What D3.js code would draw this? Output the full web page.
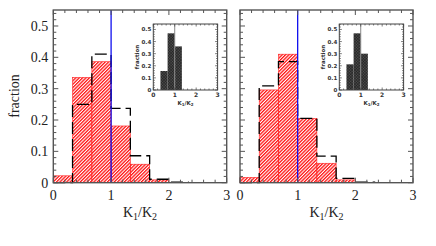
<!DOCTYPE html>
<html>
<head>
<meta charset="utf-8">
<script src="https://cdn.jsdelivr.net/npm/d3@7"></script>
<style>
body { margin: 0; background: #fff; }
svg { display: block; }
</style>
</head>
<body>
<svg id="chart"></svg>
<script>
// bin edges of K1/K2 histograms
var binEdges = [0, 0.333, 0.667, 1, 1.333, 1.667, 2, 2.333];
var leftRed   = [0.022, 0.336, 0.386, 0.181, 0.059, 0.009, 0];
var leftDash  = [0, 0.25, 0.41, 0.237, 0.086, 0.011, 0.002];
var rightRed  = [0.017, 0.296, 0.41, 0.205, 0.062, 0.009, 0];
var rightDash = [0, 0.309, 0.386, 0.205, 0.085, 0.014, 0.002];
var insetEdges = [0, 0.333, 0.667, 1, 1.333];
var leftInset  = [0, 0.157, 0.468, 0.36];
var rightInset = [0, 0.212, 0.468, 0.30];
var xTicks = [0, 1, 2, 3];
var yTicks = [0, 0.1, 0.2, 0.3, 0.4, 0.5];
var refLine = 1;

var width = 436, height = 246;
var svg = d3.select("#chart").attr("width", width).attr("height", height);

var defs = svg.append("defs");
var hatch = defs.append("pattern")
	.attr("id", "hatch")
	.attr("patternUnits", "userSpaceOnUse")
	.attr("width", 2.4).attr("height", 2.4)
	.attr("patternTransform", "rotate(45)");
hatch.append("rect").attr("width", 1.3).attr("height", 2.4).attr("fill", "#ff1010");

var cross = defs.append("pattern")
	.attr("id", "cross")
	.attr("patternUnits", "userSpaceOnUse")
	.attr("width", 2).attr("height", 2)
	.attr("patternTransform", "rotate(45)");
cross.append("rect").attr("width", 2).attr("height", 2).attr("fill", "#555");
cross.append("line").attr("x1", 0).attr("y1", 0).attr("x2", 0).attr("y2", 2)
	.attr("stroke", "#111").attr("stroke-width", 1);
cross.append("line").attr("x1", 0).attr("y1", 0).attr("x2", 2).attr("y2", 0)
	.attr("stroke", "#111").attr("stroke-width", 1);

function stepPoints(edges, vals){
	var pts = [[edges[0], 0]];
	for(let i = 0; i < vals.length; i++){
		pts.push([edges[i], vals[i]]);
		pts.push([edges[i+1], vals[i]]);
	}
	pts.push([edges[vals.length], 0]);
	return pts;
}

function ticksOn(g, x, y, x0, x1, y0, y1, xStep, yStep, major, minor){
	// x ticks bottom and top
	d3.range(0, 3.0001, xStep).forEach(function(v){
		var len = Math.abs(v - Math.round(v)) < 1e-6 ? major : minor;
		g.append("line").attr("x1", x(v)).attr("x2", x(v))
			.attr("y1", y1).attr("y2", y1 - len);
		g.append("line").attr("x1", x(v)).attr("x2", x(v))
			.attr("y1", y0).attr("y2", y0 + len);
	});
	d3.range(0, 0.5501, yStep).forEach(function(v){
		var r = v * 10;
		var len = Math.abs(r - Math.round(r)) < 1e-6 ? major : minor;
		g.append("line").attr("x1", x0).attr("x2", x0 + len)
			.attr("y1", y(v)).attr("y2", y(v));
		g.append("line").attr("x1", x1).attr("x2", x1 - len)
			.attr("y1", y(v)).attr("y2", y(v));
	});
}

function panel(left, right, red, dash, inset, insetLeft, showY){
	var x = d3.scaleLinear().domain([0, 3]).range([left, right]);
	var y = d3.scaleLinear().domain([0, 0.551]).range([182.7, 10]);
	var g = svg.append("g");

	// red hatched histogram
	g.selectAll("rect.red")
		.data(red)
		.enter()
		.append("rect")
		.attr("class", "red")
		.attr("x", function(d, i){ return x(binEdges[i]); })
		.attr("width", function(d, i){ return x(binEdges[i+1]) - x(binEdges[i]); })
		.attr("y", function(d){ return y(d); })
		.attr("height", function(d){ return y(0) - y(d); })
		.attr("fill", "url(#hatch)")
		.attr("stroke", "#ff2020")
		.attr("stroke-width", function(d){ return d > 0 ? 0.6 : 0; });

	// dashed histogram
	g.append("path")
		.attr("d", d3.line().x(function(d){ return x(d[0]); }).y(function(d){ return y(d[1]); })(stepPoints(binEdges, dash)))
		.attr("fill", "none")
		.attr("stroke", "#000")
		.attr("stroke-width", 1.3)
		.attr("stroke-dasharray", "12,5");

	// reference line
	g.append("line")
		.attr("x1", x(refLine)).attr("x2", x(refLine))
		.attr("y1", y.range()[1]).attr("y2", y.range()[0])
		.attr("stroke", "#1010ee").attr("stroke-width", 1.3);

	// frame + ticks
	var tg = g.append("g").attr("stroke", "#555").attr("stroke-width", 1);
	ticksOn(tg, x, y, left, right, 10, 182.7, 0.2, 0.02, 5, 3);
	g.append("rect")
		.attr("x", left).attr("y", 10)
		.attr("width", right - left).attr("height", 182.7 - 10)
		.attr("fill", "none").attr("stroke", "#555").attr("stroke-width", 1.4);

	// x tick labels
	g.selectAll("text.xt")
		.data(xTicks)
		.enter()
		.append("text")
		.attr("x", function(d){ return x(d); })
		.attr("y", 200)
		.attr("text-anchor", "middle")
		.attr("font-family", "Liberation Serif, serif")
		.attr("font-size", "14px")
		.attr("fill", "#222")
		.text(function(d){ return d; });

	if(showY){
		g.selectAll("text.yt")
			.data(yTicks)
			.enter()
			.append("text")
			.attr("x", left - 5)
			.attr("y", function(d){ return y(d) + 5; })
			.attr("text-anchor", "end")
			.attr("font-family", "Liberation Serif, serif")
			.attr("font-size", "14px")
			.attr("fill", "#222")
			.text(function(d){ return d === 0 ? "0" : d3.format(".1f")(d); });
		g.append("text")
			.attr("transform", "translate(" + 19 + "," + 96 + ") rotate(-90)")
			.attr("text-anchor", "middle")
			.attr("font-family", "Liberation Serif, serif")
			.attr("font-size", "14px")
			.attr("fill", "#222")
			.text("fraction");
	}

	var xl = g.append("text")
		.attr("x", x(1.5))
		.attr("y", 217)
		.attr("text-anchor", "middle")
		.attr("font-family", "Liberation Serif, serif")
		.attr("font-size", "14px")
		.attr("fill", "#222");
	xl.append("tspan").text("K");
	xl.append("tspan").attr("font-size", "10px").attr("dy", 3).text("1");
	xl.append("tspan").attr("dy", -3).text("/K");
	xl.append("tspan").attr("font-size", "10px").attr("dy", 3).text("2");

	// inset
	var ix = d3.scaleLinear().domain([0, 3]).range([insetLeft, insetLeft + 64.3]);
	var iy = d3.scaleLinear().domain([0, 0.545]).range([90, 24]);
	var ig = svg.append("g");
	ig.append("rect")
		.attr("x", ix(0)).attr("y", 24).attr("width", 64.3).attr("height", 66)
		.attr("fill", "#fff");
	ig.selectAll("rect.bar")
		.data(inset)
		.enter()
		.append("rect")
		.attr("class", "bar")
		.attr("x", function(d, i){ return ix(insetEdges[i]); })
		.attr("width", function(d, i){ return ix(insetEdges[i+1]) - ix(insetEdges[i]); })
		.attr("y", function(d){ return iy(d); })
		.attr("height", function(d){ return iy(0) - iy(d); })
		.attr("fill", "url(#cross)");
	ig.append("line")
		.attr("x1", ix(refLine)).attr("x2", ix(refLine))
		.attr("y1", 24).attr("y2", 90)
		.attr("stroke", "#888").attr("stroke-width", 1);
	var itg = ig.append("g").attr("stroke", "#444").attr("stroke-width", 0.7);
	ticksOn(itg, ix, iy, ix(0), ix(3), 24, 90, 0.2, 0.02, 2.5, 1.5);
	ig.append("rect")
		.attr("x", ix(0)).attr("y", 24).attr("width", 64.3).attr("height", 66)
		.attr("fill", "none").attr("stroke", "#444").attr("stroke-width", 1);
	ig.selectAll("text.ixt")
		.data(xTicks)
		.enter()
		.append("text")
		.attr("x", function(d){ return ix(d); })
		.attr("y", 97)
		.attr("text-anchor", "middle")
		.attr("font-family", "DejaVu Sans, sans-serif")
		.attr("font-size", "6px")
		.attr("font-weight", "bold")
		.attr("fill", "#333")
		.text(function(d){ return d; });
	ig.selectAll("text.iyt")
		.data(yTicks)
		.enter()
		.append("text")
		.attr("x", ix(0) - 2)
		.attr("y", function(d){ return iy(d) + 2; })
		.attr("text-anchor", "end")
		.attr("font-family", "DejaVu Sans, sans-serif")
		.attr("font-size", "5.5px")
		.attr("font-weight", "bold")
		.attr("fill", "#333")
		.text(function(d){ return d === 0 ? "0" : d3.format(".1f")(d); });
	ig.append("text")
		.attr("transform", "translate(" + (ix(0) - 14) + "," + 57 + ") rotate(-90)")
		.attr("text-anchor", "middle")
		.attr("font-family", "DejaVu Sans, sans-serif")
		.attr("font-size", "5.5px")
		.attr("font-weight", "bold")
		.attr("fill", "#333")
		.text("fraction");
	var il = ig.append("text")
		.attr("x", ix(1.5))
		.attr("y", 104.5)
		.attr("text-anchor", "middle")
		.attr("font-family", "DejaVu Sans, sans-serif")
		.attr("font-size", "5.5px")
		.attr("font-weight", "bold")
		.attr("fill", "#333");
	il.append("tspan").text("K");
	il.append("tspan").attr("font-size", "4px").attr("dy", 1.5).text("1");
	il.append("tspan").attr("dy", -1.5).text("/K");
	il.append("tspan").attr("font-size", "4px").attr("dy", 1.5).text("2");
}

panel(53.3, 226.7, leftRed, leftDash, leftInset, 153.3, true);
panel(240, 413, rightRed, rightDash, rightInset, 339.3, false);
</script>
</body>
</html>
